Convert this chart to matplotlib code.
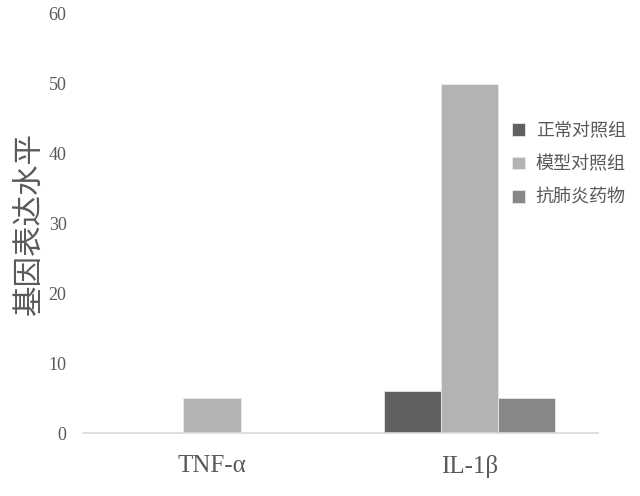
import matplotlib.pyplot as plt
import numpy as np

# données
categories = ['TNF-α', 'IL-1β']
groupes = ['正常对照组', '模型对照组', '抗肺炎药物']
valeurs = {
    '正常对照组': [0, 6],
    '模型对照组': [5, 50],
    '抗肺炎药物': [0, 5],
}
couleurs = ['#606060', '#b3b3b3', '#878787']
yticks = [0, 10, 20, 30, 40, 50, 60]

cjk = ['Noto Sans CJK SC', 'DejaVu Sans']
serif = ['Liberation Serif', 'DejaVu Serif']
gris = '#595959'

fig = plt.figure(figsize=(6.4, 4.96), dpi=100)
ax = fig.add_axes([0.130, 0.127, 0.805, 0.845])

x = np.arange(len(categories))
largeur = 0.222
handles = []
for i, g in enumerate(groupes):
    b = ax.bar(x + (i - 1) * largeur, valeurs[g], largeur, color=couleurs[i],
               edgecolor='#e8e8e8', linewidth=0.6, label=g)
    handles.append(b)

ax.set_xlim(-0.5, 1.5)
ax.set_ylim(0, 60)
ax.set_yticks(yticks)
ax.set_yticklabels([str(v) for v in yticks], family=serif, fontsize=13, color=gris)
ax.set_xticks(x)
ax.set_xticklabels(categories, family=serif, fontsize=18, color=gris)
ax.tick_params(axis='y', length=0, pad=12)
ax.tick_params(axis='x', length=0, pad=16)

for s in ['top', 'right', 'left']:
    ax.spines[s].set_visible(False)
ax.spines['bottom'].set_color('#d9d9d9')
ax.spines['bottom'].set_linewidth(1.2)

ax.set_ylabel('基因表达水平', family=cjk, fontsize=22, color=gris, labelpad=3)

leg = fig.legend(handles=handles, labels=groupes, loc='upper left',
                 bbox_to_anchor=(0.775, 0.787), frameon=False,
                 prop={'family': cjk, 'size': 13}, labelcolor=gris,
                 handlelength=0.7, handleheight=0.7, handletextpad=0.6,
                 labelspacing=0.85)

fig.savefig('out.png', dpi=100)
